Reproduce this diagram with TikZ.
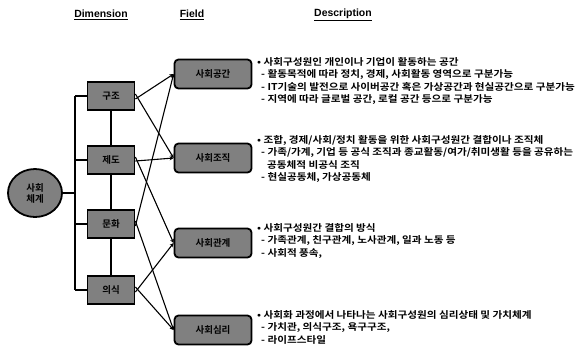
\documentclass[tikz,border=0pt]{standalone}
\usepackage{fontspec}
\setmainfont{Liberation Sans}
\newfontfamily\kfont{Noto Sans CJK KR}[BoldFont={* Bold}]
\newfontfamily\kwide{Noto Sans CJK KR}[BoldFont={* Bold},FakeStretch=1.12]
\usetikzlibrary{arrows.meta,shapes.geometric}

\begin{document}
\begin{tikzpicture}[x=1bp,y=-1bp,
  hdr/.style={font=\bfseries\fontsize{10.5}{12}\selectfont},
  dim/.style={draw,line width=1.8pt,fill=black!50,minimum width=47bp,minimum height=28bp,font=\kfont\bfseries\fontsize{9.5}{11}\selectfont},
  fld/.style={draw,line width=1.8pt,rounded corners=4pt,fill=black!50,minimum width=77bp,minimum height=29bp,font=\kfont\bfseries\fontsize{9.5}{11}\selectfont},
  desc/.style={anchor=north west,align=left,inner sep=0pt,font=\kwide\bfseries\fontsize{9.5}{12.5}\selectfont},
  arr/.style={-{Stealth[length=4pt,width=4pt]},line width=1.1pt},
  bus/.style={line width=1.1pt}
]
\useasboundingbox (0,0) rectangle (579,351);

% column heads
\node[hdr] (hdim) at (101,15) {\underline{Dimension}};
\node[hdr] (hfld) at (192,15) {\underline{Field}};
\node[hdr] (hdsc) at (343,15) {\underline{Description}};

% system
\node[ellipse,draw,line width=1.8pt,fill=black!50,minimum width=54bp,minimum height=48bp,inner sep=0pt,align=center,font=\kfont\bfseries\fontsize{9.5}{11}\selectfont] (sys) at (35,193) {사회\\체계};

% dimensions
\node[dim] (gu) at (111,96) {구조};
\node[dim] (je) at (111,160) {제도};
\node[dim] (mun) at (111,224) {문화};
\node[dim] (ui) at (111,290) {의식};

% fields
\node[fld] (gong) at (213,74) {사회공간};
\node[fld] (jo) at (213,158) {사회조직};
\node[fld] (gwan) at (213,243) {사회관계};
\node[fld] (sim) at (213,330) {사회심리};

% tree from the system
\coordinate (b0) at (75,193);
\coordinate (b1) at (75,96);
\coordinate (b4) at (75,290);
\draw[bus] (sys.east) -- (b0);
\draw[bus] (b1) -- (b4);
\foreach \d in {gu,je,mun,ui}
  \draw[bus] (b1 |- \d.west) -- (\d.west);
\draw[bus] (gu) -- (je);
\draw[bus] (je) -- (mun);
\draw[bus] (mun) -- (ui);

% dimension -> field
\draw[arr] ([yshift=-3bp]gu.east) -- (gong.west);
\draw[arr] ([yshift=2bp]gu.east) -- (jo.west);
\draw[arr] ([yshift=-1bp]je.east) -- (jo.west);
\draw[arr] ([yshift=3bp]je.east) -- (gwan.west);
\draw[arr] ([yshift=-2bp]mun.east) -- (gong.west);
\draw[arr] ([yshift=3bp]mun.east) -- (sim.west);
\draw[arr] ([yshift=-2bp]ui.east) -- (gwan.west);
\draw[arr] ([yshift=3bp]ui.east) -- (sim.west);

% descriptions
\node[desc] (d1) at (257,57) {• 사회구성원인 개인이나 기업이 활동하는 공간\\
  \hspace{4bp}- 활동목적에 따라 정치, 경제, 사회활동 영역으로 구분가능\\
  \hspace{4bp}- IT기술의 발전으로 사이버공간 혹은 가상공간과 현실공간으로 구분가능\\
  \hspace{4bp}- 지역에 따라 글로벌 공간, 로컬 공간 등으로 구분가능};
\node[desc] (d2) at (257,135) {• 조합, 경제/사회/정치 활동을 위한 사회구성원간 결합이나 조직체\\
  \hspace{4bp}- 가족/가계, 기업 등 공식 조직과 종교활동/여가/취미생활 등을 공유하는\\
  \hspace{10bp}공동체적 비공식 조직\\
  \hspace{4bp}- 현실공동체, 가상공동체};
\node[desc] (d3) at (257,223) {• 사회구성원간 결합의 방식\\
  \hspace{4bp}- 가족관계, 친구관계, 노사관계, 일과 노동 등\\
  \hspace{4bp}- 사회적 풍속,};
\node[desc] (d4) at (257,310) {• 사회화 과정에서 나타나는 사회구성원의 심리상태 및 가치체계\\
  \hspace{4bp}- 가치관, 의식구조, 욕구구조,\\
  \hspace{4bp}- 라이프스타일};
\end{tikzpicture}
\end{document}
